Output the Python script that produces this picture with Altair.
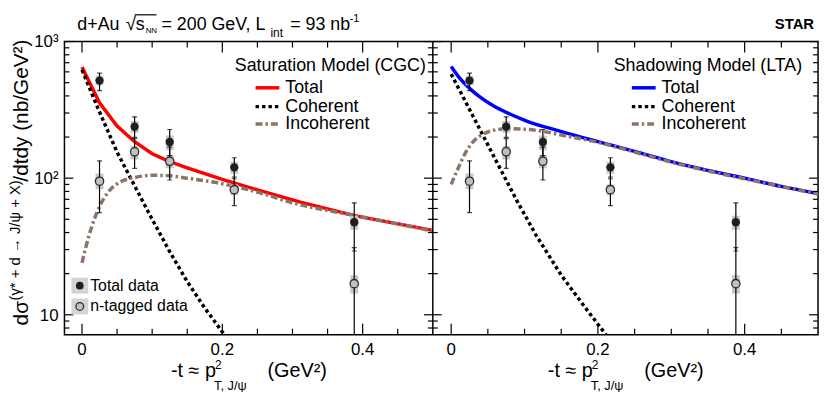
import altair as alt
import pandas as pd

# ---------------- data ----------------
t_data = [0.025, 0.075, 0.125, 0.217, 0.388]
tot_val = [518, 238, 184, 120, 47.6]
tot_hi = [588, 281, 227, 141, 66]
tot_lo = [437, 199, 146, 99, 29.3]
tot_sys_hi = [562, 262, 205, 132, 53]
tot_sys_lo = [478, 215, 160, 108, 42]
ntag_val = [95, 156, 133, 82.4, 16.9]
ntag_hi = [134, 195, 169, 102, 31]
ntag_lo = [56, 118, 97, 63, 3]
ntag_sys_hi = [108, 172, 148, 90, 19.5]
ntag_sys_lo = [83, 137, 118, 75, 14.3]

# Saturation model (CGC)
cgc_tot_t = [0, 0.025, 0.05, 0.075, 0.1, 0.125, 0.15, 0.2, 0.25, 0.31, 0.39, 0.5]
cgc_tot_v = [650, 356, 241, 185, 151, 132, 119, 98, 82, 67, 53, 41.5]
cgc_coh_t = [0, 0.025, 0.05, 0.075, 0.1, 0.125, 0.15, 0.175, 0.2, 0.206]
cgc_coh_v = [620, 305, 155, 88, 50, 29, 17.5, 11.2, 7.5, 6.9]
cgc_inc_t = [0, 0.01, 0.025, 0.04, 0.055, 0.075, 0.1, 0.125, 0.15, 0.2, 0.25, 0.3, 0.4, 0.5]
cgc_inc_v = [24, 38, 62, 82, 94, 101, 105, 104, 100, 91, 79, 66, 52, 41]

# Shadowing model (LTA)
lta_tot_t = [0, 0.0134, 0.027, 0.04, 0.058, 0.08, 0.103, 0.148, 0.2, 0.26, 0.3, 0.35, 0.4, 0.45, 0.5]
lta_tot_v = [658, 526, 445, 390, 337, 295, 262, 221, 185, 152, 132, 114, 100, 87, 77]
lta_coh_t = [0, 0.03, 0.06, 0.09, 0.116, 0.15, 0.18, 0.208, 0.213]
lta_coh_v = [578, 283, 138, 67.7, 38, 19.5, 11.8, 7.5, 6.9]
lta_inc_t = [0, 0.01, 0.02, 0.03, 0.04, 0.055, 0.075, 0.1, 0.125, 0.15, 0.2, 0.26, 0.3, 0.35, 0.4, 0.45, 0.5]
lta_inc_v = [90, 120, 155, 185, 205, 222, 230, 228, 220, 207, 183, 150, 131, 113, 99, 87, 76.5]

x_major = [0, 0.2, 0.4]
x_major_lab = ["0", "0.2", "0.4"]
x_minor = [0.05, 0.1, 0.15, 0.25, 0.3, 0.35, 0.45]
y_major = [10, 100, 1000]
y_major_lab = ["10", "10²", "10³"]
y_minor = [8, 9, 20, 30, 40, 50, 60, 70, 80, 90, 200, 300, 400, 500, 600, 700, 800, 900]

panel_titles = ["Saturation Model (CGC)", "Shadowing Model (LTA)"]
legend_labels = ["Total", "Coherent", "Incoherent"]
data_labels = ["Total data", "n-tagged data"]

# ---------------- layout / style ----------------
WL, WR, H = 372, 389, 296
W = WL + WR
XDOM = [-0.025, 0.5]
YDOM = [7.15, 1000]
FONT = "Liberation Sans"
BROWN = "#8c7468"
GRAY = "#c8c8c8"

ys = alt.Scale(type="log", domain=YDOM, nice=False)


def xs(p):
    rng = [0, WL] if p == 0 else [WL, W]
    return alt.Scale(domain=XDOM, range=rng, nice=False, zero=False)


def X(p, f="t"):
    return alt.X(f + ":Q", scale=xs(p), axis=None)


def Y(f):
    return alt.Y(f + ":Q", scale=ys, axis=None)


def txt(s, x, y, size=18, align="left", baseline="middle", **kw):
    return alt.Chart(pd.DataFrame({"s": [s]})).mark_text(
        font=FONT, fontSize=size, align=align, baseline=baseline, color="black", **kw
    ).encode(x=alt.value(x), y=alt.value(y), text="s:N")


def hrule(x0, x1, y, color="black", width=1.0, dash=None):
    kw = {"strokeDash": dash} if dash else {}
    return alt.Chart(pd.DataFrame({"a": [0]})).mark_rule(
        color=color, strokeWidth=width, **kw
    ).encode(x=alt.value(x0), x2=alt.value(x1), y=alt.value(y))


layers = []

curves = [
    (cgc_tot_t, cgc_tot_v, cgc_coh_t, cgc_coh_v, cgc_inc_t, cgc_inc_v, "#ff0000", "linear"),
    (lta_tot_t, lta_tot_v, lta_coh_t, lta_coh_v, lta_inc_t, lta_inc_v, "#0000ff", "monotone"),
]

ddf = pd.DataFrame({
    "t": t_data, "tv": tot_val, "th": tot_hi, "tl": tot_lo, "tsh": tot_sys_hi, "tsl": tot_sys_lo,
    "nv": ntag_val, "nh": ntag_hi, "nl": ntag_lo, "nsh": ntag_sys_hi, "nsl": ntag_sys_lo,
})

for p in (0, 1):
    tt, tv, ct, cv, it, iv, col, interp = curves[p]
    layers.append(alt.Chart(pd.DataFrame({"t": tt, "v": tv})).mark_line(
        color=col, strokeWidth=3.5, clip=True, interpolate=interp).encode(x=X(p), y=Y("v")))
    layers.append(alt.Chart(pd.DataFrame({"t": ct, "v": cv})).mark_line(
        color="black", strokeWidth=3.5, strokeDash=[3.5, 3], clip=True).encode(x=X(p), y=Y("v")))
    layers.append(alt.Chart(pd.DataFrame({"t": it, "v": iv})).mark_line(
        color=BROWN, strokeWidth=3.5, strokeDash=[7, 3, 2.5, 3], clip=True,
        interpolate="monotone").encode(x=X(p), y=Y("v")))
    # systematic boxes (thick rules centred on the point)
    for lo, hi in (("tsl", "tsh"), ("nsl", "nsh")):
        layers.append(alt.Chart(ddf).mark_rule(strokeWidth=8, color=GRAY, clip=True).encode(
            x=X(p), y=Y(lo), y2=hi + ":Q"))
    # statistical error bars + caps
    for lo, hi in (("tl", "th"), ("nl", "nh")):
        layers.append(alt.Chart(ddf).mark_rule(color="black", strokeWidth=1.2, clip=True).encode(
            x=X(p), y=Y(lo), y2=hi + ":Q"))
        for f in (lo, hi):
            layers.append(alt.Chart(ddf).mark_tick(orient="horizontal", size=5, thickness=1.2,
                                                   color="black", clip=True).encode(x=X(p), y=Y(f)))
    layers.append(alt.Chart(ddf).mark_point(shape="circle", filled=True, size=70, color="#1e1e1e",
                                            opacity=1).encode(x=X(p), y=Y("tv")))
    layers.append(alt.Chart(ddf).mark_point(shape="circle", filled=True, size=70, fill="#c0c0c0",
                                            stroke="#2a2a2a", strokeWidth=1.3, opacity=1).encode(x=X(p), y=Y("nv")))

    # x ticks (inward, bottom and top)
    for vals, ln in ((x_major, 11), (x_minor, 6)):
        dft = pd.DataFrame({"t": vals})
        layers.append(alt.Chart(dft).mark_rule(color="black", strokeWidth=1.2).encode(
            x=X(p), y=alt.value(H), y2=alt.value(H - ln)))
        layers.append(alt.Chart(dft).mark_rule(color="black", strokeWidth=1.2).encode(
            x=X(p), y=alt.value(0), y2=alt.value(ln)))
    # x tick labels
    layers.append(alt.Chart(pd.DataFrame({"t": x_major, "s": x_major_lab})).mark_text(
        font=FONT, fontSize=17, baseline="alphabetic", align="center", color="black").encode(
        x=X(p), y=alt.value(317), text="s:N"))

# y ticks (inward on each frame edge)
for vals, ln in ((y_major, 9), (y_minor, 5)):
    dfy = pd.DataFrame({"v": vals})
    for x0, x1 in ((0, ln), (WL - ln, WL + ln), (W - ln, W)):
        layers.append(alt.Chart(dfy).mark_rule(color="black", strokeWidth=1.2).encode(
            y=Y("v"), x=alt.value(x0), x2=alt.value(x1)))
layers.append(alt.Chart(pd.DataFrame({"v": y_major, "s": y_major_lab})).mark_text(
    font=FONT, fontSize=17, align="right", baseline="middle", color="black", dy=1).encode(
    y=Y("v"), x=alt.value(-6), text="s:N"))

# middle frame line
layers.append(alt.Chart(pd.DataFrame({"a": [0]})).mark_rule(color="black", strokeWidth=1.5).encode(
    x=alt.value(WL), y=alt.value(0), y2=alt.value(H)))

# panel legends
styles = [("#ff0000", None), ("black", [3.5, 3]), (BROWN, [7, 3, 2.5, 3])]
leg_y = [46.7, 65.7, 83.3]
for p, (tx, lx0) in enumerate(((365, 193), (745, 573))):
    layers.append(txt(panel_titles[p], tx, 25, size=18, align="right"))
    for i, lab in enumerate(legend_labels):
        col, dash = styles[i]
        if i == 0:
            col = "#ff0000" if p == 0 else "#0000ff"
        layers.append(hrule(lx0, lx0 + 24, leg_y[i], color=col, width=3.5, dash=dash))
        layers.append(txt(lab, lx0 + 30, leg_y[i], size=18))

# data legend (bottom-left)
for i, yy in enumerate((246.5, 267.5)):
    layers.append(alt.Chart(pd.DataFrame({"a": [0]})).mark_rect(color="#d4d4d4").encode(
        x=alt.value(7), x2=alt.value(24), y=alt.value(yy - 8), y2=alt.value(yy + 8)))
    if i == 0:
        mk = alt.Chart(pd.DataFrame({"a": [0]})).mark_point(shape="circle", filled=True, size=60,
                                                          color="#1e1e1e", opacity=1)
    else:
        mk = alt.Chart(pd.DataFrame({"a": [0]})).mark_point(shape="circle", filled=True, size=60,
                                                          fill="#c0c0c0", stroke="#2a2a2a",
                                                          strokeWidth=1.3, opacity=1)
    layers.append(mk.encode(x=alt.value(15.5), y=alt.value(yy)))
    layers.append(txt(data_labels[i], 26, yy, size=16))

# x-axis titles
for c in (WL / 2, WL + WR / 2):
    layers.append(txt("-t ≈ p", c - 33, 339, size=20, align="right", baseline="alphabetic"))
    layers.append(txt("2", c - 34, 327, size=12))
    layers.append(txt("T, J/ψ", c - 35, 348, size=13))
    layers.append(txt("(GeV²)", c + 19, 339, size=20, baseline="alphabetic"))

# y-axis title (rotated)
layers.append(txt("/dtdy (nb/GeV²)", -37, -2, size=21, align="right", baseline="alphabetic", angle=270))
layers.append(txt("(γ* + d → J/ψ + X)", -45, 140, size=15, align="right", baseline="alphabetic", angle=270))
layers.append(txt("dσ", -37, 262, size=21, align="right", baseline="alphabetic", angle=270))

# header
layers.append(txt("d+Au", 13, -12, size=18, baseline="alphabetic"))
layers.append(txt("√", 62, -12, size=19, baseline="alphabetic"))
layers.append(hrule(71, 93, -27, width=1.2))
layers.append(txt("s", 72, -12, size=18, baseline="alphabetic"))
layers.append(txt("NN", 82, -9, size=8, baseline="alphabetic"))
layers.append(txt("= 200 GeV, L", 98, -12, size=18, baseline="alphabetic"))
layers.append(txt("int", 208, -5, size=12, baseline="alphabetic"))
layers.append(txt("= 93 nb", 228, -12, size=18, baseline="alphabetic"))
layers.append(txt("-1", 288, -20, size=11, baseline="alphabetic"))
layers.append(txt("STAR", 757, -13, size=15, align="right", baseline="alphabetic", fontWeight="bold"))

chart = alt.layer(*layers).resolve_scale(x="independent").properties(
    width=W, height=H,
    autosize=alt.AutoSizeParams(type="none"),
    padding={"left": 57, "top": 32, "right": 4, "bottom": 56},
).configure_view(stroke="black", strokeWidth=1.5)

chart.save("out.html", embed_options={"renderer": "svg", "actions": False})
